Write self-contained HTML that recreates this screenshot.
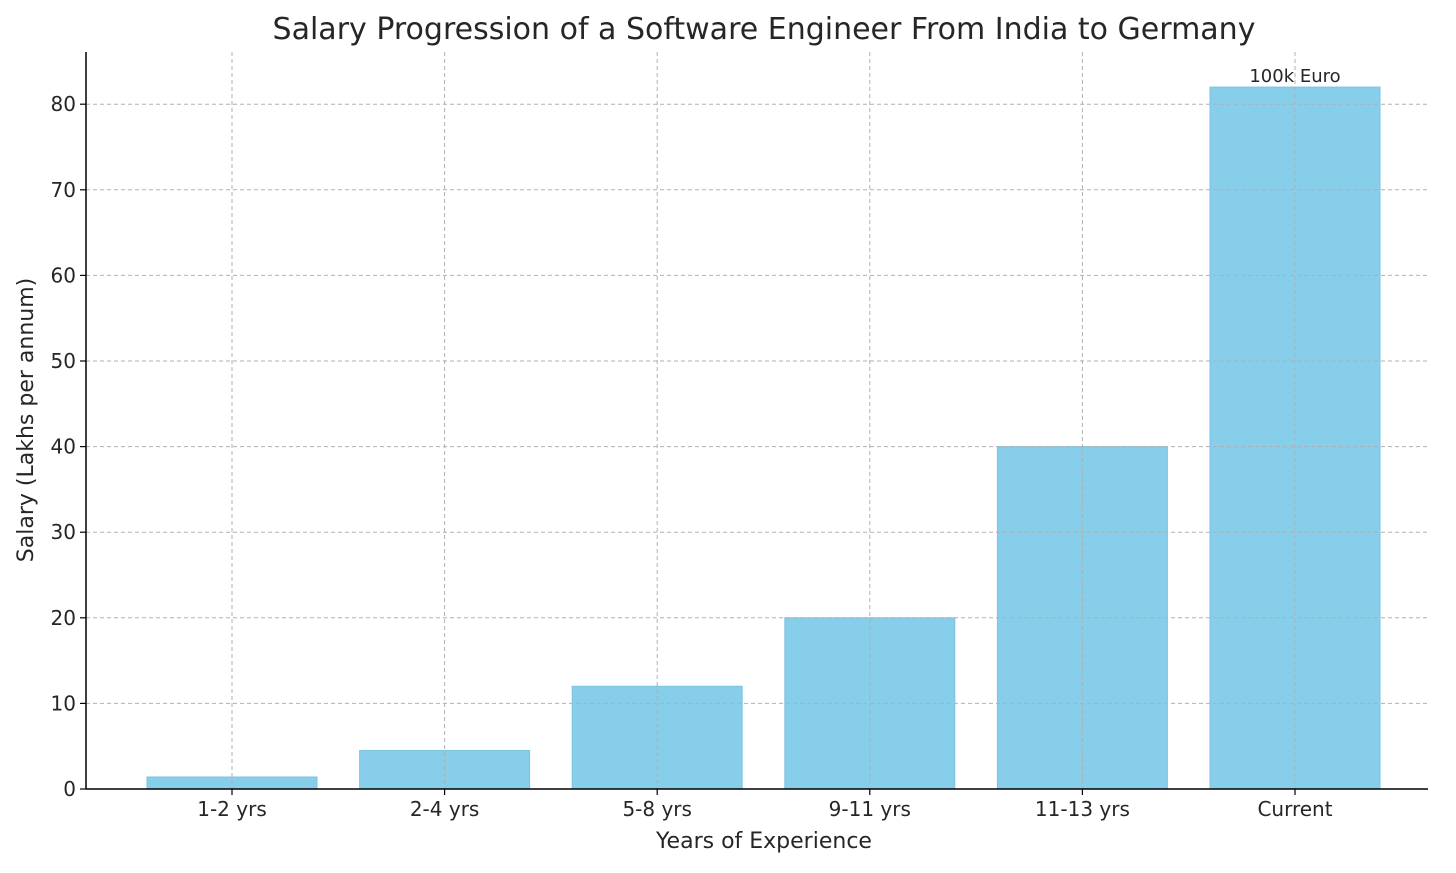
<!DOCTYPE html>
<html><head><meta charset="utf-8"><style>
body{margin:0;background:#fff;}
svg text{font-family:"DejaVu Sans","Liberation Sans",sans-serif;fill:#262626;}
</style></head><body>
<svg id="chart" width="1456" height="868" xmlns="http://www.w3.org/2000/svg">
<text x="764" y="39" font-size="30" text-anchor="middle">Salary Progression of a Software Engineer From India to Germany</text>
<g id="bars"></g><g id="grid"></g><g id="axes"></g>
<text x="764" y="848" font-size="22" text-anchor="middle">Years of Experience</text>
<text transform="translate(33,420) rotate(-90)" font-size="22" text-anchor="middle">Salary (Lakhs per annum)</text>
</svg>
<script>
const categories=["1-2 yrs","2-4 yrs","5-8 yrs","9-11 yrs","11-13 yrs","Current"];
const salaries=[1.4,4.5,12,20,40,82];
const yTicks=[0,10,20,30,40,50,60,70,80];
const annotations=["","","","","","100k Euro"];
const NS="http://www.w3.org/2000/svg";
const L=86,R=1428,B=789,T=52;
const y=v=>B-v*85.6/10;
const x=i=>232+i*212.6;
const bw=170;
function mk(tag,attrs,parent){const e=document.createElementNS(NS,tag);for(const k in attrs)e.setAttribute(k,attrs[k]);parent.appendChild(e);return e;}
const gb=document.getElementById('bars'),gg=document.getElementById('grid'),ga=document.getElementById('axes');
salaries.forEach((v,i)=>{
 const r=mk('rect',{x:x(i)-bw/2,y:y(v),width:bw,height:B-y(v),fill:'#87ceeb',stroke:'#7ec3e0','stroke-width':1},gb);
 
 
 if(annotations[i]){const t=mk('text',{x:x(i),y:y(v)-5,'font-size':18,'text-anchor':'middle'},gb);t.textContent=annotations[i];
 
 }
});
yTicks.forEach(v=>{
 const l=mk('line',{x1:L,x2:R,y1:y(v),y2:y(v),stroke:'#b0b0b0','stroke-dasharray':'4,3','stroke-width':1},gg);
 
 
 mk('line',{x1:L-6,x2:L,y1:y(v),y2:y(v),stroke:'#000','stroke-width':1.2},ga);
 const t=mk('text',{x:L-10,y:y(v)+7,'font-size':20,'text-anchor':'end'},ga);t.textContent=v;
 
 
});
categories.forEach((c,i)=>{
 const l=mk('line',{x1:x(i),x2:x(i),y1:T,y2:B,stroke:'#b0b0b0','stroke-dasharray':'4,3','stroke-width':1},gg);
 
 
 mk('line',{x1:x(i),x2:x(i),y1:B,y2:B+6,stroke:'#000','stroke-width':1.2},ga);
 const t=mk('text',{x:x(i),y:B+27,'font-size':20,'text-anchor':'middle'},ga);t.textContent=c;
 
 
});
const ax=mk('line',{x1:L,x2:L,y1:T,y2:B,stroke:'#000','stroke-width':1.5},ga);


const bx=mk('line',{x1:L,x2:R,y1:B,y2:B,stroke:'#000','stroke-width':1.5},ga);


</script>
</body></html>
